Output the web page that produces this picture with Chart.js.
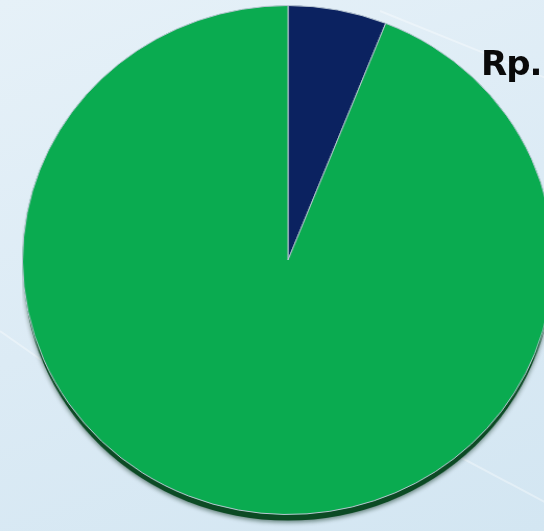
<!DOCTYPE html>
<html>
<head>
<meta charset="utf-8">
<script src="https://cdn.jsdelivr.net/npm/chart.js@4"></script>
<style>
  html, body { margin: 0; padding: 0; width: 544px; height: 531px; overflow: hidden; }
  body {
    position: relative;
    background: linear-gradient(160deg, #e6f1f8 0%, #dcebf5 50%, #d3e6f2 100%);
  }
  .streak { position: absolute; height: 2px; background: rgba(255,255,255,0.35); transform-origin: left center; }
  #wrap { position: absolute; left: 22px; top: 5px; width: 510px; height: 525px; transform: scaleX(1.043); transform-origin: left top; }
  #rp { position: absolute; left: 481px; top: 43px; font-family: "DejaVu Sans", sans-serif; font-weight: bold; font-size: 34px; color: #0a0a0a; letter-spacing: -1px; }
</style>
</head>
<body>
<div class="streak" style="left:380px;top:10px;width:220px;transform:rotate(22deg)"></div>
<div class="streak" style="left:0px;top:330px;width:200px;transform:rotate(35deg)"></div>
<div class="streak" style="left:430px;top:440px;width:160px;transform:rotate(28deg)"></div>
<div id="wrap"><canvas id="pie" width="510" height="525"></canvas></div>
<div id="rp">Rp.</div>
<script>
// share of the two slices
const sliceLabels = ['Bagian kecil', 'Bagian besar'];
const sliceValues = [6, 94];
const sliceColors = ['#0b2260', '#0aab50'];

// dark rim under the disc, drawn once behind the slices
const rimShadow = {
  id: 'rimShadow',
  beforeDatasetsDraw(chart) {
    const arc = chart.getDatasetMeta(0).data[0];
    if (!arc) return;
    const ctx = chart.ctx;
    ctx.save();
    ctx.fillStyle = '#0c4a24';
    ctx.shadowColor = 'rgba(0,40,20,0.5)';
    ctx.shadowBlur = 4;
    ctx.shadowOffsetY = 2;
    ctx.beginPath();
    ctx.arc(arc.x, arc.y + 7, arc.outerRadius - 1, 0, Math.PI * 2);
    ctx.fill();
    ctx.restore();
  }
};

const ctx = document.getElementById('pie').getContext('2d');
new Chart(ctx, {
  type: 'pie',
  data: {
    labels: sliceLabels,
    datasets: [{
      data: sliceValues,
      backgroundColor: sliceColors,
      borderColor: '#b9c7d2',
      borderWidth: 1
    }]
  },
  options: {
    responsive: false,
    animation: false,
    layout: { padding: { top: 0, bottom: 15, left: 0, right: 0 } },
    plugins: { legend: { display: false }, tooltip: { enabled: false } }
  },
  plugins: [rimShadow]
});
</script>
</body>
</html>
